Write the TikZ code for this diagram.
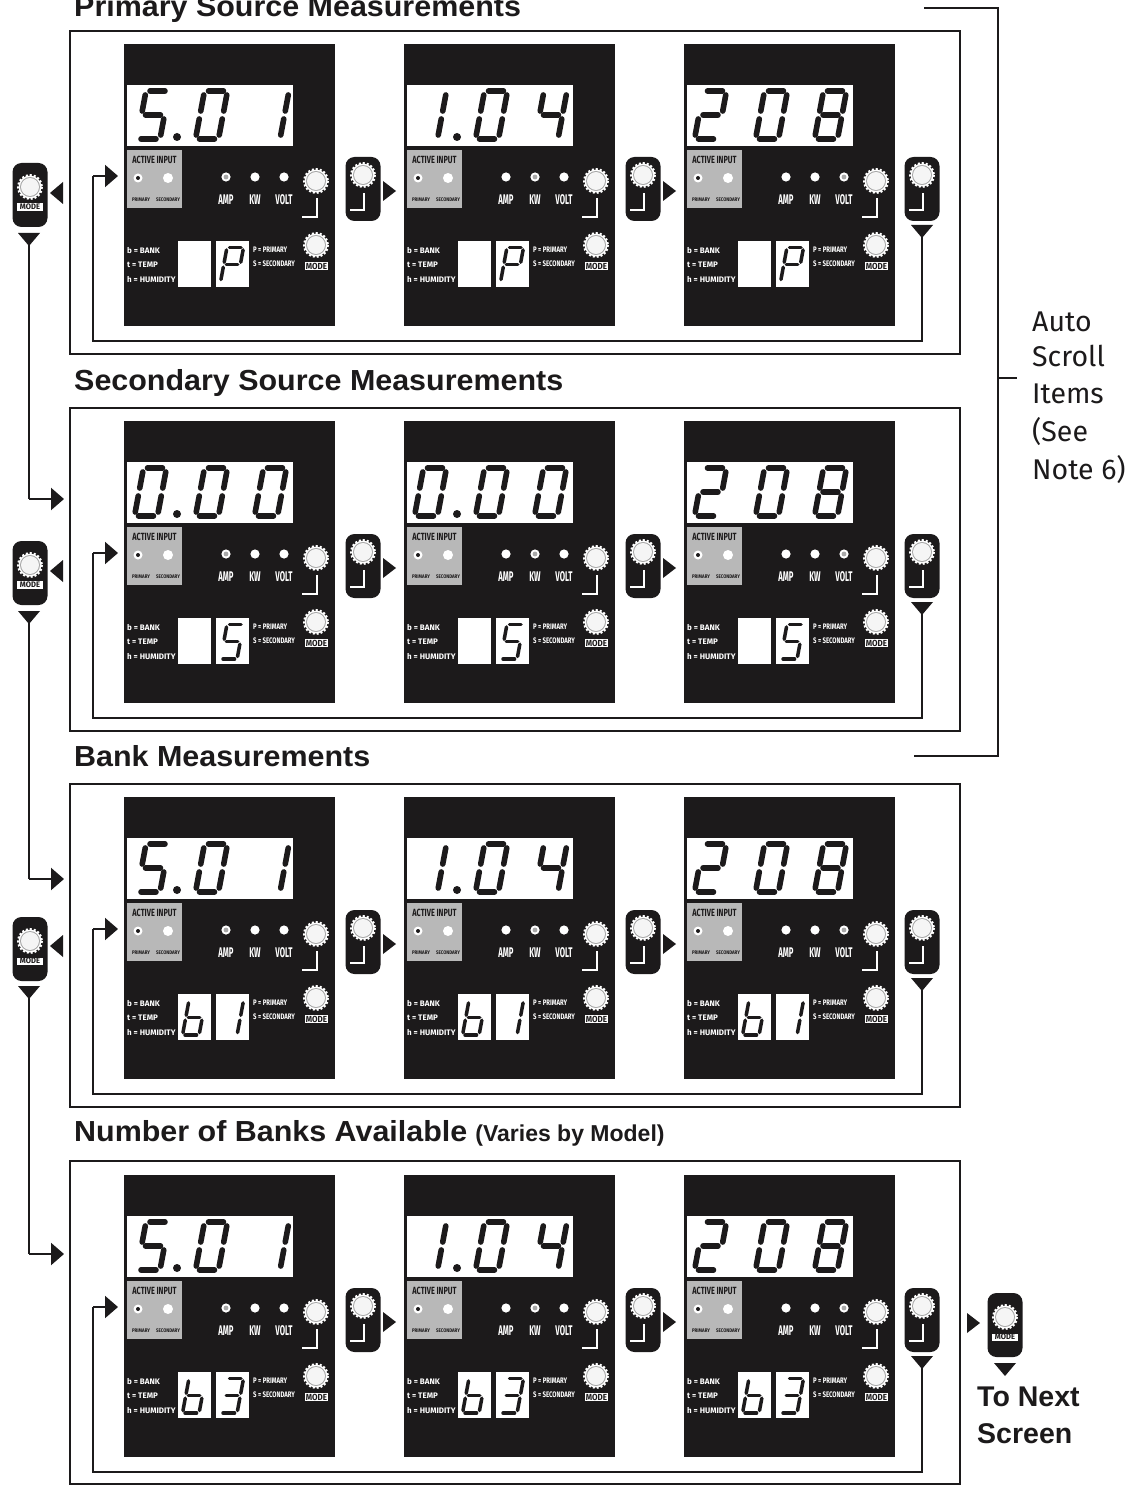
\documentclass[tikz,border=0pt]{standalone}
\usepackage{fontspec}
\usepackage{graphicx}
\setmainfont{Fira Sans}
\newfontfamily\titlefont{Liberation Sans}
\usetikzlibrary{arrows.meta,calc}
\definecolor{ink}{HTML}{1C1A1B}
\definecolor{panelgray}{HTML}{B8B8B8}
\definecolor{knobgray}{HTML}{A8A8A8}
\tikzset{
  framebox/.style={draw=ink,line width=2.8pt,minimum width=890pt,minimum height=323pt,inner sep=0pt,outer sep=0pt},
  devbody/.style={fill=ink,minimum width=211pt,minimum height=282pt,inner sep=0pt,outer sep=0pt},
  btn/.style={fill=ink,rounded corners=9pt,minimum width=35pt,minimum height=64pt,inner sep=0pt,outer sep=0pt},
  whitebox/.style={fill=white,inner sep=0pt,outer sep=0pt},
  conn/.style={draw=ink,line width=2.2pt},
  tip/.style={-{Triangle[length=13pt,width=22pt]}},
  segst/.style={line width=#1,line cap=round,draw=ink,shorten <=#1*0.72,shorten >=#1*0.72},
  titletext/.style={anchor=west,inner sep=0pt,text=ink,font=\titlefont\fontsize{29}{30}\selectfont\bfseries},
  sidetext/.style={anchor=west,inner sep=0pt,text=ink,font=\fontsize{28.5}{30}\selectfont},
  minitext/.style={anchor=west,inner sep=0pt,text=white,font=\fontsize{8}{9}\selectfont\bfseries},
  ledtext/.style={inner sep=0pt,text=white,font=\fontsize{14}{15}\selectfont\bfseries},
  graytext/.style={inner sep=0pt,text=ink,font=\fontsize{5.2}{6}\selectfont\bfseries},
  modetext/.style={fill=white,inner sep=0.6pt,text=ink,font=\fontsize{8}{9}\selectfont\bfseries},
}
\def\dZero{a,b,c,d,e,f}
\def\dOne{b,c}
\def\dTwo{a,b,g,e,d}
\def\dThree{a,b,g,c,d}
\def\dFour{f,g,b,c}
\def\dFive{a,f,g,c,d}
\def\dEight{a,b,c,d,e,f,g}
\def\dP{a,b,f,g,e}
\def\db{f,e,d,c,g}
\def\dNone{}
% seven segment digit: x, y of lower-left, scale, line width, segments
\newcommand\sevenseg[5]{%
  \begin{scope}[shift={(#1,#2)},scale=#3]
    \foreach \s in #5 {%
      \ifx\s\empty\else
      \csname myseg\s\endcsname{#4}%
      \fi
    }
  \end{scope}}
\newcommand\mysega[1]{\draw[segst=#1] (9,-48)--(32,-48);}
\newcommand\mysegb[1]{\draw[segst=#1] (32,-48)--(27.5,-24);}
\newcommand\mysegc[1]{\draw[segst=#1] (27.5,-24)--(23,0);}
\newcommand\mysegd[1]{\draw[segst=#1] (0,0)--(23,0);}
\newcommand\mysege[1]{\draw[segst=#1] (0,0)--(4.5,-24);}
\newcommand\mysegf[1]{\draw[segst=#1] (4.5,-24)--(9,-48);}
\newcommand\mysegg[1]{\draw[segst=#1] (4.5,-24)--(27.5,-24);}
\newcommand\knob[2]{%
  \fill[white] (#1,#2) circle[radius=11.5];
  \draw[white,line width=2pt,dash pattern=on 2pt off 2pt] (#1,#2) circle[radius=12];
  \draw[knobgray,line width=1pt] (#1,#2) circle[radius=9.5];
  \fill[white!96!black] (#1,#2) circle[radius=8.5];}
\newcommand\led[3]{% x y active
  \fill[white] (#1,#2) circle[radius=4.6];
  \ifnum#3=1 \fill[knobgray] (#1,#2) circle[radius=2.4];\fi}
% enter button between displays: name, cx, cy
\newcommand\enterbtn[3]{%
  \node[btn] (#1) at (#2,#3) {};
  \knob{#2}{#3-14}
  \draw[white,line width=1.6pt] (#2-13,#3+21) -- (#2+1,#3+21) -- (#2+1,#3+4);}
% mode button
\newcommand\modebtn[3]{%
  \node[btn] (#1) at (#2,#3) {};
  \knob{#2}{#3-8}
  \node[modetext,minimum width=26pt] (#1-lab) at (#2,#3+12) {\scalebox{.95}[1]{MODE}};}
\newcommand\trright[2]{\fill[ink] (#1,#2-10)--(#1+13,#2)--(#1,#2+10)--cycle;}
\newcommand\trleft[2]{\fill[ink] (#1,#2)--(#1+13,#2-11)--(#1+13,#2+11)--cycle;}
\newcommand\trdown[2]{\fill[ink] (#1-11,#2)--(#1+11,#2)--(#1,#2+13)--cycle;}
% device panel: name, x, y, d1 x, d1, d2, d3 x, d3, active led
\newcommand\devpanel[9]{%
  \begin{scope}[shift={(#2,#3)}]
    \node[devbody,anchor=north west] (#1) at (0,0) {};
    \node[whitebox,anchor=north west,minimum width=166pt,minimum height=61pt] (#1-disp) at (3,41) {};
    \sevenseg{#4}{95}{1}{5.6pt}{#5}
    \sevenseg{71.5}{95}{1}{5.6pt}{#6}
    \sevenseg{#7}{95}{1}{5.6pt}{#8}
    \ifnum\showdot=1 \fill[ink] (53,93) circle[radius=4];\fi
    \node[fill=panelgray,anchor=north west,minimum width=55pt,minimum height=58pt,inner sep=0pt,outer sep=0pt] (#1-gray) at (3,106) {};
    \node[graytext] (#1-ai) at (30.5,116) {\scalebox{1.4}[2]{ACTIVE INPUT}};
    \node[graytext] (#1-pr) at (17,156) {\scalebox{.85}[1]{PRIMARY}};
    \node[graytext] (#1-se) at (44,156) {\scalebox{.85}[1]{SECONDARY}};
    \fill[white] (14,134) circle[radius=4.5];
    \fill[ink] (14,134) circle[radius=2];
    \fill[white] (44,134) circle[radius=5];
    \ifnum#9=1 \led{102}{133}{1}\else\led{102}{133}{0}\fi
    \ifnum#9=2 \led{131}{133}{1}\else\led{131}{133}{0}\fi
    \ifnum#9=3 \led{160}{133}{1}\else\led{160}{133}{0}\fi
    \node[ledtext] (#1-amp) at (102,156) {\scalebox{.55}[1]{AMP}};
    \node[ledtext] (#1-kw) at (131,156) {\scalebox{.55}[1]{KW}};
    \node[ledtext] (#1-volt) at (160,156) {\scalebox{.55}[1]{VOLT}};
    \knob{192}{137}
    \draw[white,line width=1.8pt] (178,173)--(193,173)--(193,154);
    \knob{192}{201}
    \node[modetext] (#1-mode) at (192.5,222) {\scalebox{1}[1.1]{MODE}};
    \node[minitext] (#1-l1) at (3,207) {b = BANK};
    \node[minitext] (#1-l2) at (3,221) {t = TEMP};
    \node[minitext] (#1-l3) at (3,236) {h = HUMIDITY};
    \node[minitext] (#1-r1) at (129,206) {\scalebox{.75}[1]{P = PRIMARY}};
    \node[minitext] (#1-r2) at (129,220) {\scalebox{.75}[1]{S = SECONDARY}};
    \node[whitebox,anchor=north west,minimum width=33pt,minimum height=46pt] (#1-s1) at (54,197) {};
    \node[whitebox,anchor=north west,minimum width=33pt,minimum height=46pt] (#1-s2) at (92,197) {};
    \sevenseg{58.5}{238}{0.72}{3.5pt}{\sOne}
    \sevenseg{96.5}{238}{0.72}{3.5pt}{\sTwo}
  \end{scope}}
\newcommand\rowparts[2]{% id, panel top y
  \enterbtn{#1-b1}{363}{#2+145}
  \trright{383}{#2+147}
  \enterbtn{#1-b2}{643}{#2+145}
  \trright{663}{#2+147}
  \enterbtn{#1-b3}{922}{#2+145}
  \trdown{922}{#2+181}
  \coordinate (#1-ls) at (922,#2+190);
  \coordinate (#1-lb) at (922,#2+297);
  \coordinate (#1-lc) at (93,#2+297);
  \coordinate (#1-ld) at (93,#2+132);
  \coordinate (#1-le) at (118,#2+132);
  \draw[conn,line width=2pt] (#1-ls) -- (#1-lb) -- (#1-lc) -- (#1-ld);
  \draw[conn,line width=2pt,tip] (#1-ld) -- (#1-le);}
\begin{document}
\begin{tikzpicture}[x=1pt,y=-1pt]
\useasboundingbox[fill=white] (0,0) rectangle (1128,1487);
% frames
\node[framebox,anchor=north west] (f1) at (70,31) {};
\node[framebox,anchor=north west] (f2) at (70,408) {};
\node[framebox,anchor=north west] (f3) at (70,784) {};
\node[framebox,anchor=north west] (f4) at (70,1161) {};
% titles
\node[titletext] (t1) at (74,9) {\scalebox{1.05}[1]{Primary Source Measurements}};
\node[titletext] (t2) at (74,383) {\scalebox{1.05}[1]{Secondary Source Measurements}};
\node[titletext] (t3) at (74,756) {\scalebox{1.05}[1]{Bank Measurements}};
\node[titletext] (t4) at (74,1133) {\scalebox{1.05}[1]{Number of Banks Available} \fontsize{23}{24}\selectfont (Varies by Model)};
% panels
\edef\sOne{\dNone}\edef\sTwo{\dP}
\def\showdot{1}
\devpanel{p11}{124}{44}{13}{\dFive}{\dZero}{133}{\dOne}{1}
\devpanel{p12}{404}{44}{10.5}{\dOne}{\dZero}{131}{\dFour}{2}
\def\showdot{0}
\devpanel{p13}{684}{44}{10.5}{\dTwo}{\dZero}{130.5}{\dEight}{3}
\edef\sTwo{\dFive}
\def\showdot{1}
\devpanel{p21}{124}{421}{10.5}{\dZero}{\dZero}{130.5}{\dZero}{1}
\devpanel{p22}{404}{421}{10.5}{\dZero}{\dZero}{130.5}{\dZero}{2}
\def\showdot{0}
\devpanel{p23}{684}{421}{10.5}{\dTwo}{\dZero}{130.5}{\dEight}{3}
\edef\sOne{\db}\edef\sTwo{\dOne}
\def\showdot{1}
\devpanel{p31}{124}{797}{13}{\dFive}{\dZero}{133}{\dOne}{1}
\devpanel{p32}{404}{797}{10.5}{\dOne}{\dZero}{131}{\dFour}{2}
\def\showdot{0}
\devpanel{p33}{684}{797}{10.5}{\dTwo}{\dZero}{130.5}{\dEight}{3}
\edef\sTwo{\dThree}
\def\showdot{1}
\devpanel{p41}{124}{1175}{13}{\dFive}{\dZero}{133}{\dOne}{1}
\devpanel{p42}{404}{1175}{10.5}{\dOne}{\dZero}{131}{\dFour}{2}
\def\showdot{0}
\devpanel{p43}{684}{1175}{10.5}{\dTwo}{\dZero}{130.5}{\dEight}{3}
\rowparts{r1}{44}
\rowparts{r2}{421}
\rowparts{r3}{797}
\rowparts{r4}{1175}
% left mode buttons
\modebtn{m1}{30}{195}
\trleft{50}{193}
\trdown{29}{233}
\modebtn{m2}{30}{573}
\trleft{50}{571}
\trdown{29}{611}
\modebtn{m3}{30}{949}
\trleft{50}{946}
\trdown{29}{986}
\coordinate (m1s) at (29,240);
\coordinate (m1c) at (29,499);
\coordinate (m1t) at (64,499);
\coordinate (m2s) at (29,618);
\coordinate (m2c) at (29,879);
\coordinate (m2t) at (64,879);
\coordinate (m3s) at (29,993);
\coordinate (m3c) at (29,1254);
\coordinate (m3t) at (64,1254);
\draw[conn] (m1s) -- (m1c);
\draw[conn,tip] (m1c) -- (m1t);
\draw[conn] (m2s) -- (m2c);
\draw[conn,tip] (m2c) -- (m2t);
\draw[conn] (m3s) -- (m3c);
\draw[conn,tip] (m3c) -- (m3t);
% next screen
\trright{967}{1323}
\modebtn{m4}{1005}{1325}
\trdown{1005}{1363}
\node[titletext,font=\titlefont\fontsize{28.5}{30}\selectfont\bfseries] (n1) at (977,1397) {To Next};
\node[titletext,font=\titlefont\fontsize{28.5}{30}\selectfont\bfseries] (n2) at (977,1434) {Screen};
% bracket
\coordinate (ba) at (924,8);
\coordinate (bb) at (998,8);
\coordinate (bc) at (998,756);
\coordinate (bd) at (914,756);
\coordinate (be) at (998,378);
\coordinate (bf) at (1017,378);
\draw[conn] (ba) -- (bb) -- (bc) -- (bd);
\draw[conn] (be) -- (bf);
\node[sidetext] (s1) at (1032,322) {Auto};
\node[sidetext] (s2) at (1032,356) {Scroll};
\node[sidetext] (s3) at (1032,394) {Items};
\node[sidetext] (s4) at (1032,432) {(See};
\node[sidetext] (s5) at (1032,470) {Note 6)};
\end{tikzpicture}
\end{document}
